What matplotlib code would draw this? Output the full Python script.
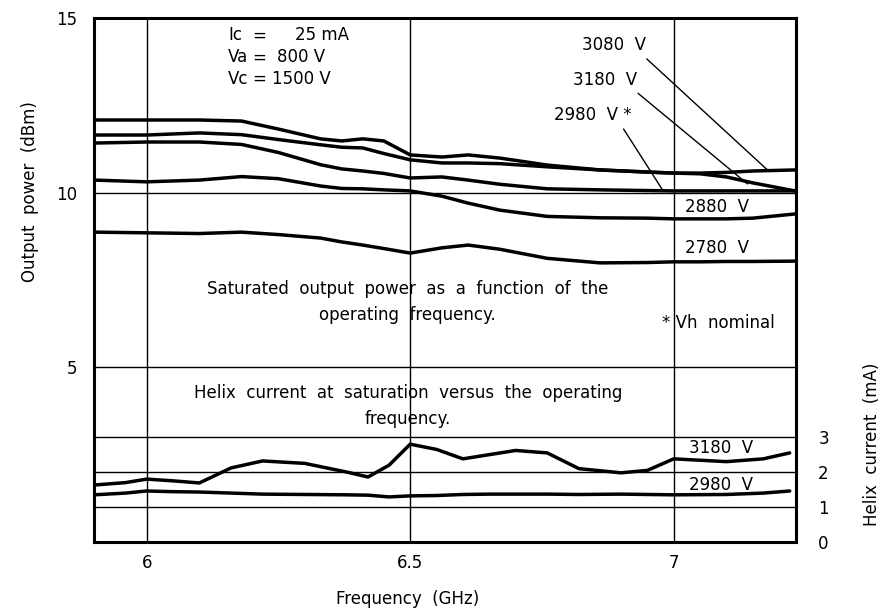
import numpy as np
import matplotlib.pyplot as plt

# frequency points (GHz)
f_out = [5.9, 6.0, 6.1, 6.18, 6.25, 6.33, 6.37, 6.41, 6.45, 6.5, 6.56, 6.61, 6.67,
         6.76, 6.86, 6.95, 7.0, 7.05, 7.1, 7.15, 7.23]

# saturated output power (dBm)
p_3080 = [12.08, 12.08, 12.08, 12.05, 11.82, 11.54, 11.48, 11.54, 11.48, 11.08, 11.02,
          11.08, 10.99, 10.79, 10.65, 10.59, 10.56, 10.56, 10.58, 10.62, 10.65]
p_3180 = [11.65, 11.65, 11.71, 11.66, 11.52, 11.37, 11.30, 11.28, 11.12, 10.94, 10.85,
          10.85, 10.83, 10.74, 10.65, 10.59, 10.56, 10.54, 10.45, 10.28, 10.05]
p_2980 = [11.42, 11.45, 11.45, 11.38, 11.15, 10.80, 10.68, 10.62, 10.55, 10.42, 10.45,
          10.36, 10.24, 10.11, 10.08, 10.06, 10.05, 10.05, 10.05, 10.05, 10.05]
p_2880 = [10.36, 10.31, 10.36, 10.46, 10.40, 10.19, 10.12, 10.11, 10.08, 10.05, 9.90,
          9.70, 9.50, 9.32, 9.28, 9.27, 9.25, 9.25, 9.25, 9.27, 9.39]
p_2780 = [8.87, 8.85, 8.83, 8.87, 8.80, 8.70, 8.59, 8.50, 8.40, 8.27, 8.42,
          8.50, 8.38, 8.12, 7.99, 8.00, 8.02, 8.02, 8.03, 8.03, 8.04]

# helix current at saturation (mA)
f_hx = [5.9, 5.96, 6.0, 6.05, 6.1, 6.16, 6.22, 6.3, 6.38, 6.42, 6.46, 6.5, 6.55, 6.6,
        6.65, 6.7, 6.76, 6.82, 6.9, 6.95, 7.0, 7.1, 7.17, 7.22]
i_3180 = [1.63, 1.70, 1.80, 1.75, 1.69, 2.12, 2.32, 2.25, 2.00, 1.86, 2.20, 2.80, 2.65, 2.38,
          2.50, 2.62, 2.55, 2.10, 1.98, 2.05, 2.38, 2.30, 2.38, 2.55]
i_2980 = [1.35, 1.40, 1.46, 1.44, 1.43, 1.40, 1.37, 1.36, 1.35, 1.34, 1.29, 1.32, 1.33, 1.36,
          1.37, 1.37, 1.37, 1.36, 1.37, 1.36, 1.35, 1.36, 1.40, 1.46]

fs = 12
plt.rcParams['font.family'] = ['DejaVu Sans']

fig = plt.figure(figsize=(8.89, 6.12), dpi=100)
ax = fig.add_axes([0.1057, 0.1144, 0.7897, 0.8562])
ax.set_xlim(5.9, 7.232)
ax.set_ylim(0, 15)

# grid
for xv in [6, 6.5, 7]:
    ax.axvline(xv, color='black', lw=1.0, zorder=1)
for yv in [1, 2, 3, 5, 10]:
    ax.axhline(yv, color='black', lw=1.0, zorder=1)

lw = 2.5
for p in [p_3080, p_3180, p_2980, p_2880, p_2780]:
    ax.plot(f_out, p, color='black', lw=lw, solid_capstyle='round', zorder=3)
ax.plot(f_hx, i_3180, color='black', lw=lw, solid_capstyle='round', zorder=3)
ax.plot(f_hx, i_2980, color='black', lw=lw, solid_capstyle='round', zorder=3)

for s in ax.spines.values():
    s.set_linewidth(2.2)

ax.set_xticks([6, 6.5, 7])
ax.set_xticklabels(['6', '6.5', '7'], fontsize=fs)
ax.set_yticks([5, 10, 15])
ax.set_yticklabels(['5', '10', '15'], fontsize=fs)
ax.tick_params(axis='both', length=0)
ax.tick_params(axis='x', pad=9)
ax.tick_params(axis='y', pad=12)
ax.set_xlabel('Frequency  (GHz)', fontsize=fs)
ax.xaxis.set_label_coords(0.447, -0.092)
ax.set_ylabel('Output  power  (dBm)', fontsize=fs)
ax.yaxis.set_label_coords(-0.078, 0.668)

ax2 = ax.twinx()
ax2.set_ylim(0, 15)
ax2.set_yticks([0, 1, 2, 3])
ax2.set_yticklabels(['0', '1', '2', '3'], fontsize=fs)
ax2.tick_params(axis='y', length=0, pad=16)
for s in ax2.spines.values():
    s.set_visible(False)
ax2.set_ylabel('Helix  current  (mA)', fontsize=fs)
ax2.yaxis.set_label_coords(1.095, 0.187)

# operating conditions
trans = ax.transAxes
rows = [('Ic', '25 mA', 0.2865, 0.967), ('Va', '800 V', 0.261, 0.925), ('Vc', '1500 V', 0.254, 0.884)]
for name, val, xv, yy in rows:
    ax.text(0.191, yy, name, transform=trans, fontsize=fs, va='center')
    ax.text(0.235, yy, '=', transform=trans, fontsize=fs, va='center', ha='center')
    ax.text(xv, yy, val, transform=trans, fontsize=fs, va='center', ha='left')

# curve labels with leaders
arrow = dict(arrowstyle='-', color='black', lw=1.0, shrinkA=2, shrinkB=0)
ax.annotate('3080  V', xy=(7.18, 10.62), xytext=(0.741, 0.948), textcoords='axes fraction',
            fontsize=fs, ha='center', va='center',
            arrowprops=dict(arrow, relpos=(0.93, 0.0)))
ax.annotate('3180  V', xy=(7.14, 10.25), xytext=(0.728, 0.882), textcoords='axes fraction',
            fontsize=fs, ha='center', va='center',
            arrowprops=dict(arrow, relpos=(0.93, 0.0)))
ax.annotate('2980  V *', xy=(6.98, 10.05), xytext=(0.711, 0.815), textcoords='axes fraction',
            fontsize=fs, ha='center', va='center',
            arrowprops=dict(arrow, relpos=(0.85, 0.0)))

ax.text(0.888, 0.639, '2880  V', transform=trans, fontsize=fs, ha='center', va='center')
ax.text(0.888, 0.561, '2780  V', transform=trans, fontsize=fs, ha='center', va='center')

ax.text(0.447, 0.458, 'Saturated  output  power  as  a  function  of  the\noperating  frequency.',
        transform=trans, fontsize=fs, ha='center', va='center', linespacing=1.6)
ax.text(0.89, 0.418, '* Vh  nominal', transform=trans, fontsize=fs, ha='center', va='center')
ax.text(0.447, 0.26, 'Helix  current  at  saturation  versus  the  operating\nfrequency.',
        transform=trans, fontsize=fs, ha='center', va='center', linespacing=1.6)

ax.text(0.893, 0.179, '3180  V', transform=trans, fontsize=fs, ha='center', va='center')
ax.text(0.893, 0.109, '2980  V', transform=trans, fontsize=fs, ha='center', va='center')

fig.savefig('out.png', dpi=100)
